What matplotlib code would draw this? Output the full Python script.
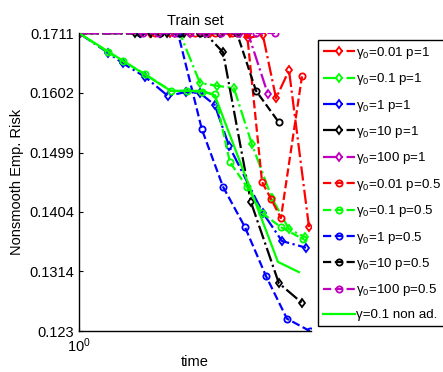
import matplotlib
matplotlib.use('Agg')
import matplotlib.pyplot as plt
from matplotlib.ticker import FixedLocator, NullLocator, LogFormatterMathtext

plt.rcParams['font.family'] = ['Liberation Sans', 'DejaVu Sans']
plt.rcParams['mathtext.fontset'] = 'custom'
plt.rcParams['mathtext.rm'] = 'Liberation Sans'
plt.rcParams['mathtext.it'] = 'Liberation Sans'

# time / risk values
t_red_p1 = [1, 1.89, 2.26, 2.70, 3.24, 3.87, 4.55, 5.20, 5.85, 6.57, 7.86]
r_red_p1 = [0.1711, 0.1711, 0.1711, 0.1711, 0.1711, 0.1711, 0.1702, 0.1707, 0.1592, 0.1642, 0.1380]

t_green_p1 = [1, 1.73, 2.07, 2.47, 2.96, 3.45, 4.01, 4.71, 5.64, 6.57, 7.58]
r_green_p1 = [0.1711, 0.1711, 0.1711, 0.1711, 0.1619, 0.1614, 0.1610, 0.1513, 0.1425, 0.1377, 0.1365]

t_blue_p1 = [1, 1.30, 1.48, 1.81, 2.22, 2.61, 2.96, 3.38, 3.84, 5.20, 6.17, 7.65]
r_blue_p1 = [0.1711, 0.1674, 0.1655, 0.1630, 0.1596, 0.1603, 0.1601, 0.1580, 0.1510, 0.1402, 0.1359, 0.1349]

t_black_p1 = [1, 1.65, 1.91, 2.20, 2.56, 3.09, 3.64, 4.67, 6.00, 7.38]
r_black_p1 = [0.1711, 0.1711, 0.1711, 0.1711, 0.1711, 0.1711, 0.1675, 0.1419, 0.1297, 0.1269]

t_mag_p1 = [1, 1.73, 2.07, 2.47, 2.96, 3.54, 4.23, 4.55, 5.44]
r_mag_p1 = [0.1711, 0.1711, 0.1711, 0.1711, 0.1711, 0.1711, 0.1711, 0.1711, 0.1599]

t_red_p05 = [1, 1.98, 2.36, 2.83, 3.38, 3.94, 4.51, 5.16, 5.59, 6.11, 7.38]
r_red_p05 = [0.1711, 0.1711, 0.1711, 0.1711, 0.1711, 0.1711, 0.1711, 0.1451, 0.1424, 0.1394, 0.1631]

t_green_p05 = [1, 1.30, 1.48, 1.81, 2.28, 2.63, 3.01, 3.38, 3.87, 4.51, 5.16, 6.11, 7.45]
r_green_p05 = [0.1711, 0.1675, 0.1659, 0.1635, 0.1605, 0.1605, 0.1603, 0.1599, 0.1483, 0.1443, 0.1402, 0.1380, 0.1362]

t_blue_p05 = [1, 1.73, 2.07, 2.43, 3.01, 3.64, 4.43, 5.35, 6.45, 7.93]
r_blue_p05 = [0.1711, 0.1711, 0.1711, 0.1711, 0.1538, 0.1443, 0.1380, 0.1307, 0.1247, 0.1230]

t_black_p05 = [1, 1.73, 2.07, 2.47, 2.96, 3.54, 4.12, 4.89, 6.00]
r_black_p05 = [0.1711, 0.1711, 0.1711, 0.1711, 0.1711, 0.1711, 0.1711, 0.1605, 0.1550]

t_mag_p05 = [1, 1.78, 2.03, 2.34, 2.70, 3.12, 3.57, 4.16, 4.89, 5.79]
r_mag_p05 = [0.1711, 0.1711, 0.1711, 0.1711, 0.1711, 0.1711, 0.1711, 0.1711, 0.1711, 0.1711]

t_nonad = [1, 2.28, 2.66, 3.01, 3.38, 5.95, 7.18]
r_nonad = [0.1711, 0.1605, 0.1605, 0.1605, 0.1597, 0.1328, 0.1313]

yticks = [0.123, 0.1314, 0.1404, 0.1499, 0.1602, 0.1711]
ytick_labels = ['0.123', '0.1314', '0.1404', '0.1499', '0.1602', '0.1711']

series = [
    (t_red_p1, r_red_p1, 'r', '-.', 'd', 'γ$_0$=0.01 p=1'),
    (t_green_p1, r_green_p1, '#00ff00', '-.', 'd', 'γ$_0$=0.1 p=1'),
    (t_blue_p1, r_blue_p1, 'b', '-.', 'd', 'γ$_0$=1 p=1'),
    (t_black_p1, r_black_p1, 'k', '-.', 'd', 'γ$_0$=10 p=1'),
    (t_mag_p1, r_mag_p1, 'm', '-.', 'd', 'γ$_0$=100 p=1'),
    (t_red_p05, r_red_p05, 'r', '--', 'o', 'γ$_0$=0.01 p=0.5'),
    (t_green_p05, r_green_p05, '#00ff00', '--', 'o', 'γ$_0$=0.1 p=0.5'),
    (t_blue_p05, r_blue_p05, 'b', '--', 'o', 'γ$_0$=1 p=0.5'),
    (t_black_p05, r_black_p05, 'k', '--', 'o', 'γ$_0$=10 p=0.5'),
    (t_mag_p05, r_mag_p05, 'm', '--', 'o', 'γ$_0$=100 p=0.5'),
]

fig = plt.figure(figsize=(4.43, 3.72), dpi=100)
ax = fig.add_axes([0.178, 0.110, 0.524, 0.801])

for t, r, c, ls, mk, lab in series:
    ax.plot(t, r, color=c, ls=ls, lw=1.6, marker=mk, ms=4.5, mfc='none',
            mew=1.3, label=lab)
ax.plot(t_nonad, r_nonad, color='#00ff00', ls='-', lw=1.6, label='γ=0.1 non ad.')

ax.set_xscale('log')
ax.set_yscale('log')
ax.set_xlim(1, 8)
ax.set_ylim(0.123, 0.1711)
ax.xaxis.set_major_locator(FixedLocator([1]))
ax.xaxis.set_major_formatter(LogFormatterMathtext())
ax.xaxis.set_minor_locator(NullLocator())
ax.yaxis.set_major_locator(FixedLocator(yticks))
ax.yaxis.set_minor_locator(NullLocator())
ax.set_yticklabels(ytick_labels)
ax.tick_params(direction='in', length=3, labelsize=10.5, width=0.8)
ax.spines['top'].set_visible(False)
ax.spines['right'].set_visible(False)
for s in ['left', 'bottom']:
    ax.spines[s].set_linewidth(1.0)

ax.set_title('Train set', fontsize=10.5, pad=6)
ax.set_xlabel('time', fontsize=10.5, labelpad=0)
ax.set_ylabel('Nonsmooth Emp. Risk', fontsize=10.5)

leg = fig.legend(loc='upper left', bbox_to_anchor=(0.718, 0.892), fontsize=9.6,
                 handlelength=2.4, handletextpad=0.1, labelspacing=0.78,
                 borderpad=0.35, borderaxespad=0, fancybox=False,
                 edgecolor='k', framealpha=1)
leg.get_frame().set_linewidth(1.0)

fig.savefig('out.png', dpi=100)
